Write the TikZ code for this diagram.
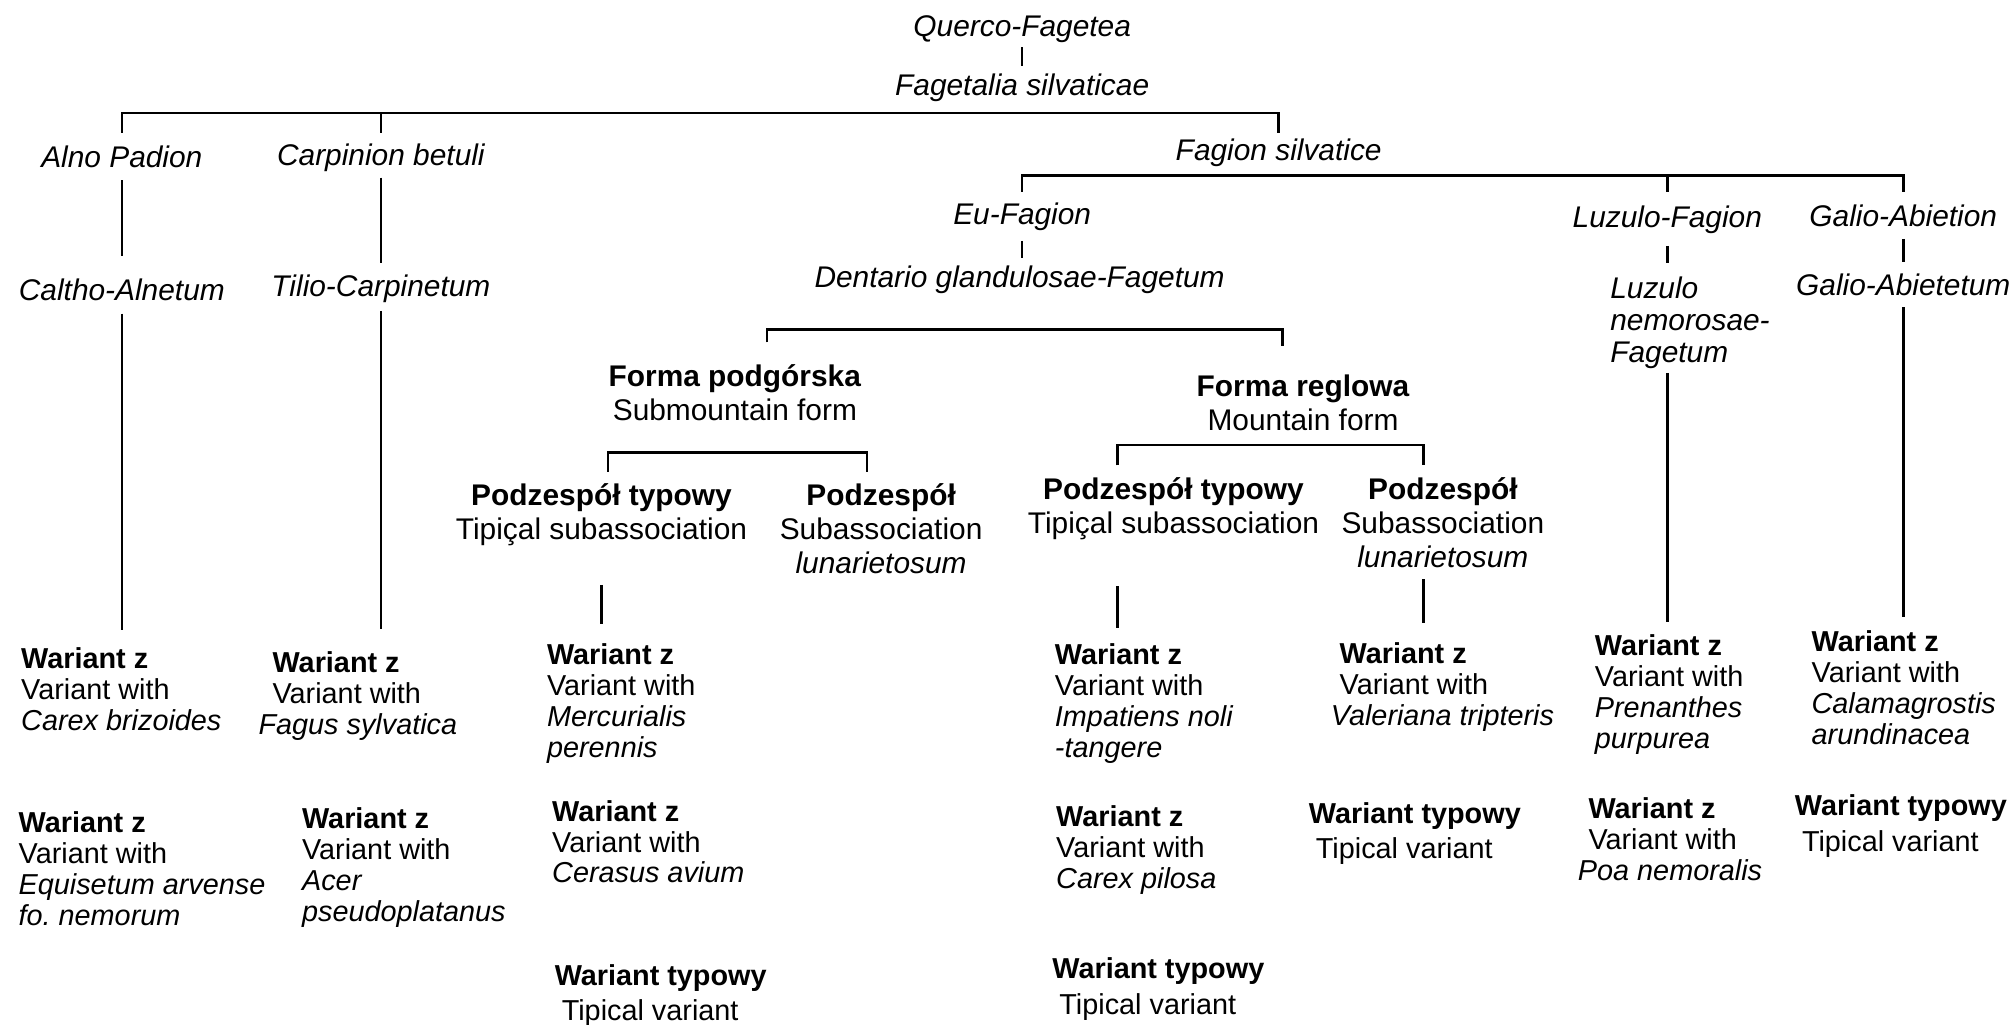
\documentclass[tikz,border=0pt]{standalone}
\usepackage{fontspec}
\setmainfont{Liberation Sans}
\usetikzlibrary{positioning}

\begin{document}
\begin{tikzpicture}[x=0.12825mm, y=-0.12825mm, every node/.style={inner sep=0pt}]
        \tikzstyle{taxon}=[font=\fontsize{8.5}{9.7}\selectfont\itshape, text height=6.2pt, text depth=1.8pt];
        \tikzstyle{group}=[anchor=north, align=center, font=\fontsize{8.5}{9.7}\selectfont];
        \tikzstyle{variant}=[anchor=north west, align=left, font=\fontsize{8.2}{8.8}\selectfont];
        \tikzstyle{edge}=[line width=0.7pt];
        \useasboundingbox (0,0) rectangle (1568,799);

        % syntaxa
        \node[taxon] (querco) at (797,22.4) {Querco-Fagetea};
        \node[taxon] (fagetalia) at (797,68.4) {Fagetalia silvaticae};
        \node[taxon] (alno) at (95,124.4) {Alno Padion};
        \node[taxon] (carpinion) at (297,123.4) {Carpinion betuli};
        \node[taxon] (fagion) at (997,119.4) {Fagion silvatice};
        \node[taxon] (caltho) at (95,228.4) {Caltho-Alnetum};
        \node[taxon] (tilio) at (297,225.4) {Tilio-Carpinetum};
        \node[taxon] (eufagion) at (797,169.4) {Eu-Fagion};
        \node[taxon] (luzfagion) at (1300,171.4) {Luzulo-Fagion};
        \node[taxon] (galion) at (1484,170.4) {Galio-Abietion};
        \node[taxon] (dentario) at (795,218.4) {Dentario glandulosae-Fagetum};
        \node[taxon] (galietum) at (1484,224.4) {Galio-Abietetum};
        \node[variant, font=\fontsize{8.5}{9.1}\selectfont\itshape] (luzfagetum) at (1255,215.4) {Luzulo\\nemorosae-\\Fagetum};

        % forms and subassociations
        \node[group] (submont) at (573,283.7) {\textbf{Forma podgórska}\\Submountain form};
        \node[group] (mont) at (1016,291.4) {\textbf{Forma reglowa}\\Mountain form};
        \node[group] (typ1) at (469,376.7) {\textbf{Podzespół typowy}\\Tipiçal subassociation};
        \node[group] (lun1) at (687,376.7) {\textbf{Podzespół}\\Subassociation\\\textit{lunarietosum}};
        \node[group] (typ2) at (915,371.7) {\textbf{Podzespół typowy}\\Tipiçal subassociation};
        \node[group] (lun2) at (1125,371.7) {\textbf{Podzespół}\\Subassociation\\\textit{lunarietosum}};

        % variants
        \node[variant] (v1) at (16,504.4) {\textbf{Wariant z}\\Variant with\\\textit{Carex brizoides}};
        \node[variant] (v2) at (212,507.4) {\textbf{Wariant z}\\Variant with\\\hspace*{-4pt}\textit{Fagus sylvatica}};
        \node[variant] (v3) at (426,501.4) {\textbf{Wariant z}\\Variant with\\\textit{Mercurialis}\\\textit{perennis}};
        \node[variant] (v4) at (822,501.4) {\textbf{Wariant z}\\Variant with\\\textit{Impatiens noli}\\\textit{-tangere}};
        \node[variant] (v5) at (1044,500.4) {\textbf{Wariant z}\\Variant with\\\hspace*{-2.5pt}\textit{Valeriana tripteris}};
        \node[variant] (v6) at (1243,494.4) {\textbf{Wariant z}\\Variant with\\\textit{Prenanthes}\\\textit{purpurea}};
        \node[variant] (v7) at (1412,491.4) {\textbf{Wariant z}\\Variant with\\\textit{Calamagrostis}\\\textit{arundinacea}};
        \node[variant] (v8) at (14,632.4) {\textbf{Wariant z}\\Variant with\\\textit{Equisetum arvense}\\\textit{fo.\ nemorum}};
        \node[variant] (v9) at (235,629.4) {\textbf{Wariant z}\\Variant with\\\textit{Acer}\\\textit{pseudoplatanus}};
        \node[variant] (v10) at (430,623.4) {\textbf{Wariant z}\\Variant with\\\textit{Cerasus avium}};
        \node[variant] (v11) at (823,627.4) {\textbf{Wariant z}\\Variant with\\\textit{Carex pilosa}};
        \node[variant] (v12) at (1020,625.4) {\textbf{Wariant typowy}\\[1.2pt]\hspace*{2pt}Tipical variant};
        \node[variant] (v13) at (1238,621.4) {\textbf{Wariant z}\\Variant with\\\hspace*{-3pt}\textit{Poa nemoralis}};
        \node[variant] (v14) at (1399,619.4) {\textbf{Wariant typowy}\\[1.2pt]\hspace*{2pt}Tipical variant};
        \node[variant] (v15) at (432,751.4) {\textbf{Wariant typowy}\\[1.2pt]\hspace*{2pt}Tipical variant};
        \node[variant] (v16) at (820,746.4) {\textbf{Wariant typowy}\\[1.2pt]\hspace*{2pt}Tipical variant};

        % connectors
        \coordinate (fagsplit) at (797,88);
        \coordinate (fagionsplit) at (1040,137);
        \coordinate (dentsplit) at (800,257);
        \coordinate (submontsplit) at (575,353);
        \coordinate (montsplit) at (990,347);
        \draw[edge, shorten <=1.1pt, shorten >=2pt] (querco) -- (fagetalia);
        \draw[edge, shorten <=3.4pt, shorten >=1.6pt] (alno.north) |- (fagsplit) -| (fagion.north);
        \draw[edge, shorten <=3.1pt] (carpinion.north) -- (carpinion.north |- fagsplit);
        \draw[edge, shorten <=1.7pt, shorten >=6.3pt] (alno) -- (caltho);
        \draw[edge, shorten <=1.3pt, shorten >=3.3pt] (carpinion) -- (tilio);
        \draw[edge, shorten <=1.7pt, shorten >=4.9pt] (caltho.south) -- (caltho.south |- v1.north);
        \draw[edge, shorten <=2pt, shorten >=6.3pt] (tilio.south) -- (tilio.south |- v2.north);
        \draw[edge, shorten <=3.1pt, shorten >=3.4pt] (eufagion.north) |- (fagionsplit) -| (galion.north);
        \draw[edge, shorten <=3.8pt] (luzfagion.north) -- (luzfagion.north |- fagionsplit);
        \draw[edge, shorten <=2.5pt, shorten >=2.2pt] (eufagion.south) -- (eufagion.south |- dentario.north);
        \draw[edge, shorten <=3.2pt, shorten >=3.7pt] (luzfagion.south) -- (luzfagion.south |- luzfagetum.north);
        \draw[edge, shorten <=1pt, shorten >=3.4pt] (luzfagion.south |- luzfagetum.south) -- (luzfagion.south |- v6.north);
        \draw[edge, shorten <=1.6pt, shorten >=3pt] (galion) -- (galietum);
        \draw[edge, shorten <=1.4pt, shorten >=3.9pt] (galietum.south) -- (galietum.south |- v7.north);
        \draw[edge, shorten <=6.1pt, shorten >=7.8pt] ([xshift=9.1pt]submont.north) |- (dentsplit) -| ([xshift=-5.8pt]mont.north);
        \draw[edge, shorten <=3.2pt, shorten >=3.2pt] ([xshift=1.8pt]typ1.north) |- (submontsplit) -| ([xshift=-4pt]lun1.north);
        \draw[edge, shorten <=3.2pt, shorten >=3.2pt] ([xshift=-16pt]typ2.north) |- (montsplit) -| ([xshift=-5.5pt]lun2.north);
        \draw[edge, shorten <=10.8pt, shorten >=5.3pt] (typ1.south) -- (typ1.south |- v3.north);
        \draw[edge, shorten <=13pt, shorten >=4.2pt] ([xshift=-16pt]typ2.south) -- ([xshift=-16pt]typ2.south |- v4.north);
        \draw[edge, shorten <=3.1pt, shorten >=5.3pt] ([xshift=-5.5pt]lun2.south) -- ([xshift=-5.5pt]lun2.south |- v5.north);
\end{tikzpicture}
\end{document}
